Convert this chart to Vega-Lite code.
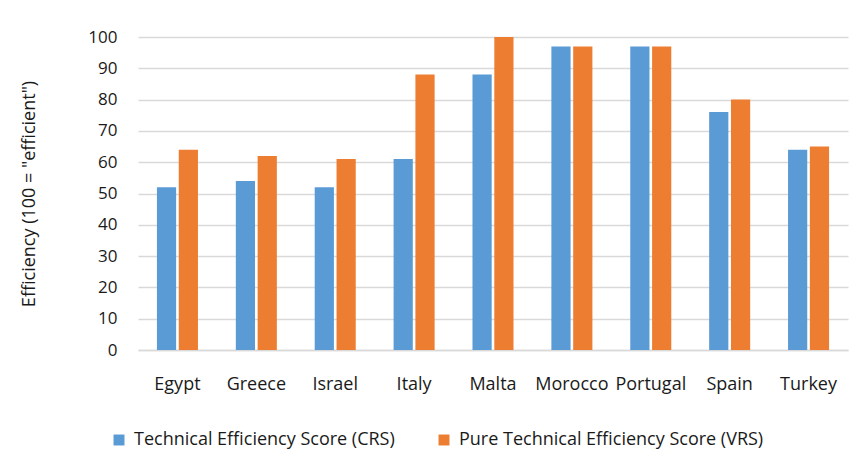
{
  "$schema": "https://vega.github.io/schema/vega-lite/v6.json",
  "width": 710,
  "height": 313,
  "padding": {"left": 20, "top": 28, "right": 10, "bottom": 10},
  "background": "white",
  "config": {
    "font": "Open Sans",
    "view": {"stroke": null}
  },
  "data": {
    "values": [
      {"country": "Egypt", "series": "Technical Efficiency Score (CRS)", "value": 52},
      {"country": "Egypt", "series": "Pure Technical Efficiency Score (VRS)", "value": 64},
      {"country": "Greece", "series": "Technical Efficiency Score (CRS)", "value": 54},
      {"country": "Greece", "series": "Pure Technical Efficiency Score (VRS)", "value": 62},
      {"country": "Israel", "series": "Technical Efficiency Score (CRS)", "value": 52},
      {"country": "Israel", "series": "Pure Technical Efficiency Score (VRS)", "value": 61},
      {"country": "Italy", "series": "Technical Efficiency Score (CRS)", "value": 61},
      {"country": "Italy", "series": "Pure Technical Efficiency Score (VRS)", "value": 88},
      {"country": "Malta", "series": "Technical Efficiency Score (CRS)", "value": 88},
      {"country": "Malta", "series": "Pure Technical Efficiency Score (VRS)", "value": 100},
      {"country": "Morocco", "series": "Technical Efficiency Score (CRS)", "value": 97},
      {"country": "Morocco", "series": "Pure Technical Efficiency Score (VRS)", "value": 97},
      {"country": "Portugal", "series": "Technical Efficiency Score (CRS)", "value": 97},
      {"country": "Portugal", "series": "Pure Technical Efficiency Score (VRS)", "value": 97},
      {"country": "Spain", "series": "Technical Efficiency Score (CRS)", "value": 76},
      {"country": "Spain", "series": "Pure Technical Efficiency Score (VRS)", "value": 80},
      {"country": "Turkey", "series": "Technical Efficiency Score (CRS)", "value": 64},
      {"country": "Turkey", "series": "Pure Technical Efficiency Score (VRS)", "value": 65}
    ]
  },
  "mark": {"type": "bar"},
  "encoding": {
    "x": {
      "field": "country",
      "type": "nominal",
      "sort": null,
      "scale": {"paddingInner": 0.48, "paddingOuter": 0.24},
      "axis": {
        "title": null,
        "labelAngle": 0,
        "labelFontSize": 18,
        "labelColor": "#1a1a1a",
        "labelPadding": 25,
        "ticks": false,
        "domainColor": "#d9d9d9",
        "domainWidth": 1.5
      }
    },
    "xOffset": {
      "field": "series",
      "type": "nominal",
      "sort": ["Technical Efficiency Score (CRS)", "Pure Technical Efficiency Score (VRS)"],
      "scale": {"paddingInner": 0.12}
    },
    "y": {
      "field": "value",
      "type": "quantitative",
      "scale": {"domain": [0, 100]},
      "axis": {
        "title": "Efficiency (100 = \"efficient\")",
        "titleFontSize": 18,
        "titleFontWeight": "normal",
        "titleColor": "#1a1a1a",
        "titlePadding": 49,
        "values": [0, 10, 20, 30, 40, 50, 60, 70, 80, 90, 100],
        "labelFontSize": 17,
        "labelColor": "#1a1a1a",
        "labelPadding": 21,
        "ticks": false,
        "domain": false,
        "gridColor": "#d9d9d9",
        "gridWidth": 1.5
      }
    },
    "color": {
      "field": "series",
      "type": "nominal",
      "sort": ["Technical Efficiency Score (CRS)", "Pure Technical Efficiency Score (VRS)"],
      "scale": {
        "domain": ["Technical Efficiency Score (CRS)", "Pure Technical Efficiency Score (VRS)"],
        "range": ["#5B9BD5", "#ED7D31"]
      },
      "legend": {
        "title": null,
        "orient": "none",
        "direction": "horizontal",
        "legendX": -28,
        "legendY": 394,
        "symbolType": "square",
        "symbolSize": 120,
        "symbolStrokeWidth": 0,
        "labelFontSize": 18,
        "labelColor": "#1a1a1a",
        "labelOffset": 6,
        "columnPadding": 40,
        "labelLimit": 400
      }
    }
  }
}
